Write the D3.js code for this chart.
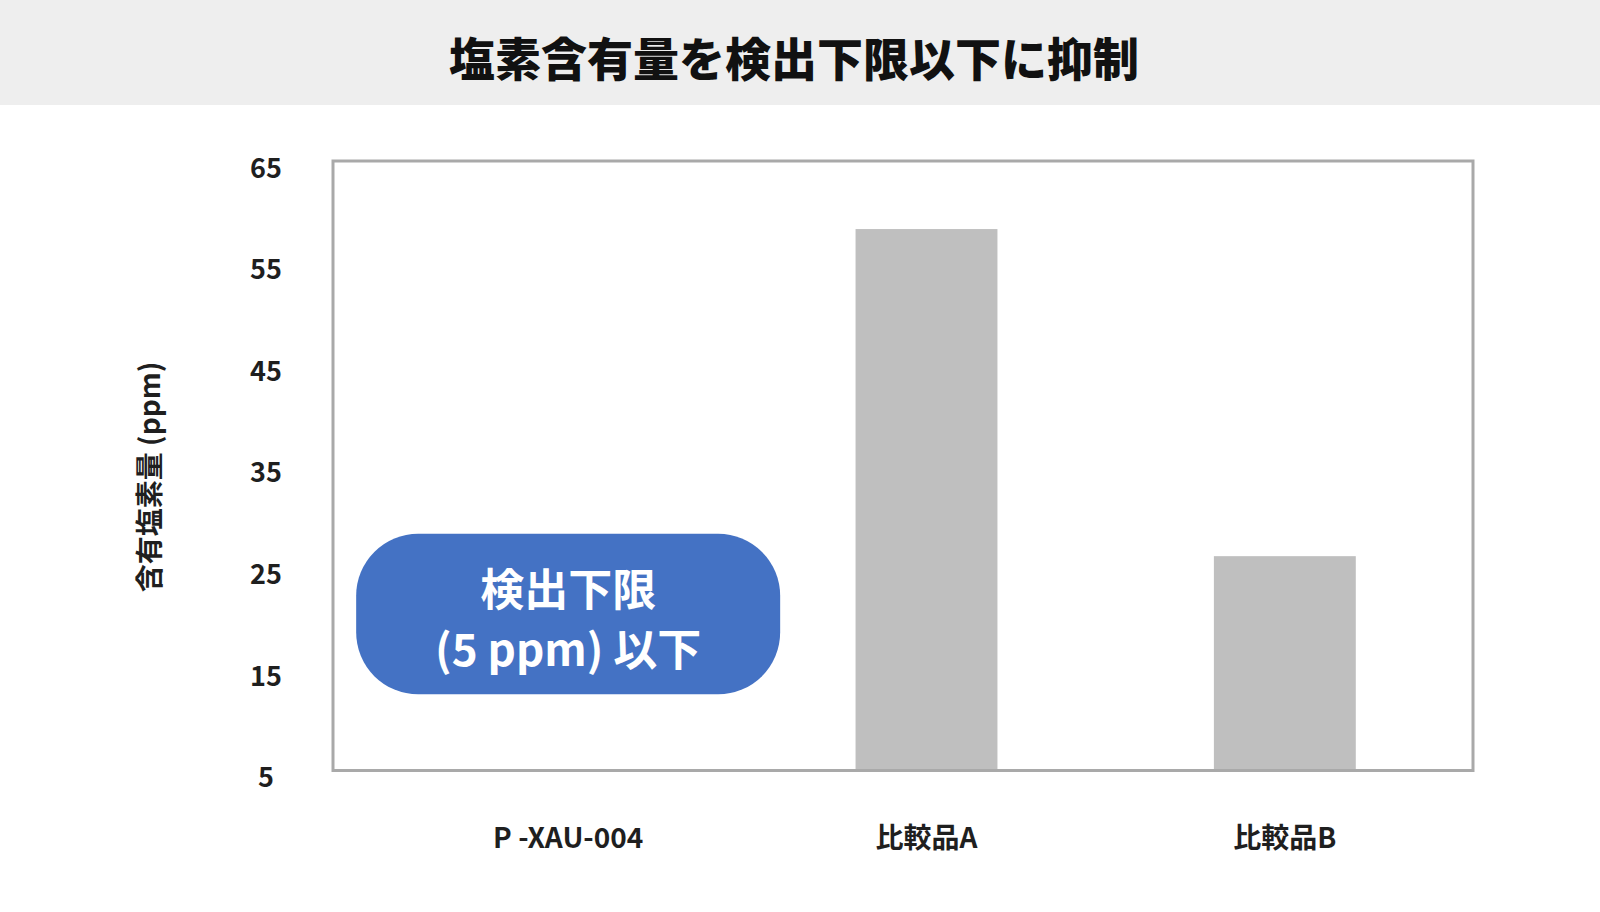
<!DOCTYPE html>
<html>
<head>
<meta charset="utf-8">
<script src="https://cdn.jsdelivr.net/npm/d3@7"></script>
<style>
  html, body { margin: 0; padding: 0; background: #fff; }
  svg text { font-family: "Noto Sans CJK JP", "Noto Sans", sans-serif; font-weight: 700; fill: #1f1f1f; }
</style>
</head>
<body>
<svg id="chart" width="1600" height="912"></svg>
<script>
var title = "塩素含有量を検出下限以下に抑制";
var yTitle = "含有塩素量 (ppm)";
var categories = ["P -XAU-004", "比較品A", "比較品B"];
var values = [null, 58.3, 26.1];   // P-XAU-004 is below detection limit, no bar
var yTicks = [5, 15, 25, 35, 45, 55, 65];
var noteLines = ["検出下限", "(5 ppm) 以下"];
var noteRange = [28.3, 12.5];      // vertical extent of the note box, in ppm

var svg = d3.select("#chart");

// header band
svg.append("rect")
    .attr("width", 1600).attr("height", 105)
    .attr("fill", "#eeeeee");
svg.append("text")
    .attr("x", 794).attr("y", 59)
    .attr("dy", "0.36em")
    .attr("text-anchor", "middle")
    .style("font-size", "46px")
    .style("font-weight", 900)
    .style("fill", "#111")
    .text(title);

var plot = { left: 333, right: 1473, top: 161, bottom: 770.5 };

var x = d3.scaleBand()
    .domain(categories)
    .range([389, 1464])
    .paddingInner(0.604)
    .paddingOuter(0.302);

var y = d3.scaleLinear()
    .domain([5, 65])
    .range([plot.bottom, plot.top]);

// bars
svg.append("g").selectAll("rect")
    .data(categories.map(function(c, i) { return { cat: c, v: values[i] }; })
        .filter(function(d) { return d.v != null; }))
    .enter().append("rect")
    .attr("x", function(d) { return x(d.cat); })
    .attr("width", x.bandwidth())
    .attr("y", function(d) { return y(d.v); })
    .attr("height", function(d) { return y(5) - y(d.v); })
    .attr("fill", "#bfbfbf");

// frame
svg.append("rect")
    .attr("x", plot.left).attr("y", plot.top)
    .attr("width", plot.right - plot.left)
    .attr("height", plot.bottom - plot.top)
    .attr("fill", "none")
    .attr("stroke", "#a9a9a9")
    .attr("stroke-width", 3);

// y axis labels
var yAxis = svg.append("g")
    .attr("transform", "translate(266,0)")
    .call(d3.axisLeft(y).tickValues(yTicks).tickSize(0).tickPadding(0));
yAxis.select(".domain").remove();
yAxis.selectAll("text")
    .attr("x", 0)
    .attr("dy", "0.6em")
    .attr("text-anchor", "middle")
    .style("font-size", "27px")
    .style("font-family", "\"Noto Sans CJK JP\", sans-serif");

// x axis labels
var xAxis = svg.append("g")
    .attr("transform", "translate(0,838)")
    .call(d3.axisBottom(x).tickSize(0).tickPadding(0));
xAxis.select(".domain").remove();
xAxis.selectAll("text")
    .attr("y", 0)
    .attr("dy", "0.36em")
    .style("font-size", "28px")
    .style("font-family", "\"Noto Sans CJK JP\", sans-serif");

// y title
svg.append("text")
    .attr("transform", "translate(150,477) rotate(-90)")
    .attr("dy", "0.36em")
    .attr("text-anchor", "middle")
    .style("font-size", "28px")
    .text(yTitle);

// detection-limit note over P-XAU-004
var cx = x(categories[0]) + x.bandwidth() / 2;
var boxW = 424;
var note = svg.append("g");
note.append("rect")
    .attr("x", cx - boxW / 2)
    .attr("y", y(noteRange[0]))
    .attr("width", boxW)
    .attr("height", y(noteRange[1]) - y(noteRange[0]))
    .attr("rx", 62).attr("ry", 62)
    .attr("fill", "#4472c4");
var midY = (y(noteRange[0]) + y(noteRange[1])) / 2;
note.selectAll("text")
    .data(noteLines)
    .enter().append("text")
    .attr("x", cx)
    .attr("y", function(d, i) { return midY + (i - 0.5) * 60 + 6; })
    .attr("dy", "0.36em")
    .attr("text-anchor", "middle")
    .style("font-size", "44px")
    .style("fill", "#fff")
    .text(function(d) { return d; });
</script>
</body>
</html>
